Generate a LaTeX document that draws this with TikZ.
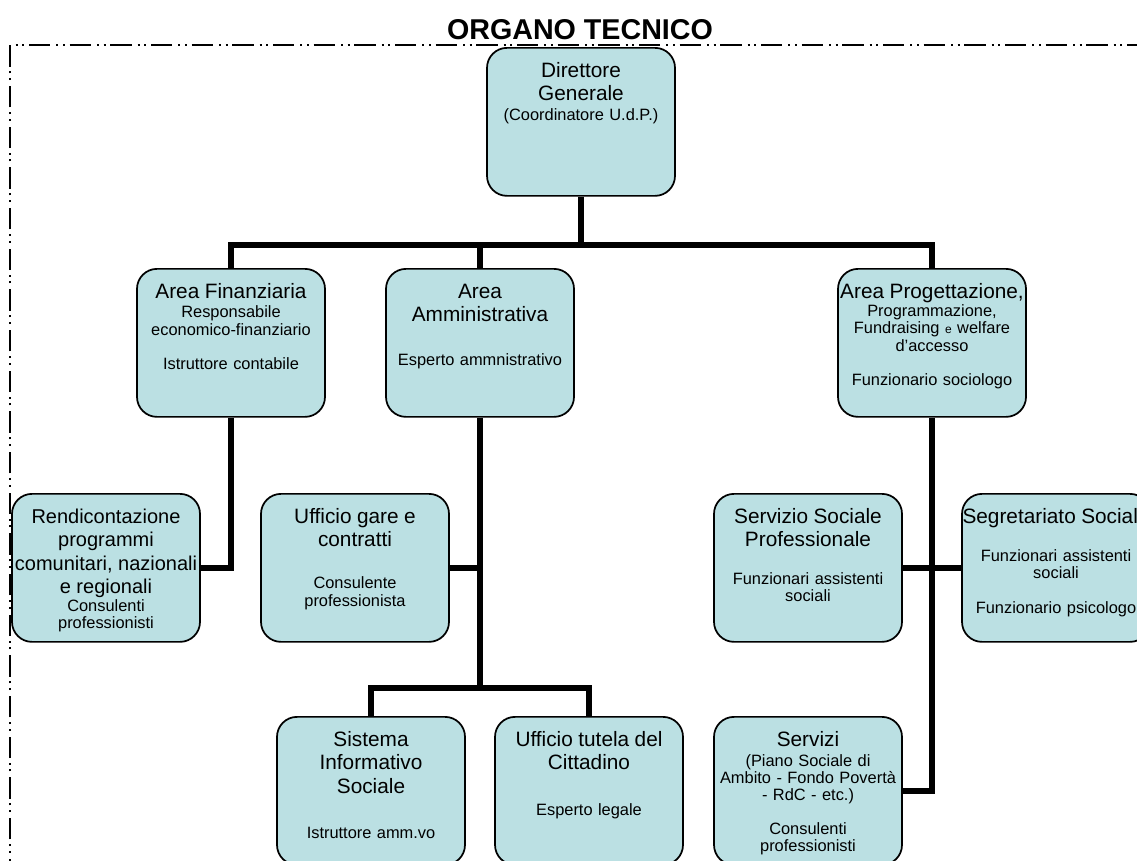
\documentclass[tikz,border=0pt]{standalone}
\usepackage{fontspec}
\setmainfont{Liberation Sans}
\definecolor{boxblue}{RGB}{187,224,227}
\newcommand{\grande}{\fontsize{15.6pt}{17.3pt}\selectfont}
\newcommand{\piccolo}{\fontsize{12.3pt}{12.8pt}\selectfont}
\newcommand{\minuto}{\fontsize{9pt}{10pt}\selectfont}

\begin{document}
\begin{tikzpicture}[x=0.75pt,y=-0.75pt]
      \tikzstyle{every node}=[font=\piccolo]
      \tikzstyle{box}=[draw,line width=1.3pt,rounded corners=15pt,fill=boxblue,anchor=north,
        inner sep=0pt,text width=141pt,align=center,text height=22.5pt,text depth=88.5pt]
      \tikzstyle{link}=[line width=4pt]
      \tikzstyle{frame}=[line width=1.2pt,dash pattern=on 16pt off 4.5pt on 1.5pt off 3.5pt on 1.5pt off 3.5pt]
      \useasboundingbox (0,0) rectangle (1137,860);
      %% Frame and title
      \draw[frame] (10,880) -- (10,45) -- (1160,45);
      \node (titolo) at (580,39) [anchor=base,inner sep=0pt,font=\fontsize{21.5pt}{24pt}\selectfont\bfseries] {ORGANO TECNICO};
      % Direttore
      \node (dg) at (581,47) [box] {{\grande Direttore\\ Generale\par}\vspace{2pt}(Coordinatore U.d.P.)};
      % Aree
      \node (af) at (231,268) [box] {{\grande Area Finanziaria\par}\vspace{1.5pt}Responsabile\\ economico-finanziario\\[12.8pt] Istruttore contabile};
      \node (aa) at (480,268) [box] {{\grande Area\\ Amministrativa\par}\vspace{19.5pt}Esperto ammnistrativo};
      \node (ap) at (932,268) [box] {{\grande Area Progettazione,\par}\vspace{0.7pt}Programmazione,\\ Fundraising {\minuto e} welfare\\ d’accesso\\[12.8pt] Funzionario sociologo};
      % Uffici
      \node (rc) at (106,493) [box] {{\fontsize{15pt}{17.3pt}\selectfont Rendicontazione\\ programmi\\ comunitari, nazionali\\ e regionali\par}\vspace{1pt}Consulenti\\ professionisti};
      \node (ug) at (355,493) [box] {{\grande Ufficio gare e\\ contratti\par}\vspace{18.7pt}Consulente\\ professionista};
      \node (ss) at (808,493) [box] {{\grande Servizio Sociale\\ Professionale\par}\vspace{15pt}Funzionari assistenti\\ sociali};
      \node (sg) at (1056,493) [box] {{\grande Segretariato Sociale\par}\vspace{15.7pt}Funzionari assistenti\\ sociali\\[12.8pt] Funzionario psicologo};
      \node (si) at (371,716) [box] {{\grande Sistema\\ Informativo\\ Sociale\par}\vspace{21pt}Istruttore amm.vo};
      \node (ut) at (589,716) [box] {{\grande Ufficio tutela del\\ Cittadino\par}\vspace{21pt}Esperto legale};
      \node (sv) at (808,716) [box] {{\grande Servizi\par}\vspace{2pt}(Piano Sociale di\\ Ambito - Fondo Povertà\\ - RdC - etc.)\\[12.8pt] Consulenti\\ professionisti};
      %% Links
      \coordinate (nodo1) at (581,245);
      \coordinate (nodo2) at (480,688);
      \draw[link] (dg.south) -- (nodo1);
      \draw[link] (af.north) |- (nodo1) -| (ap.north);
      \draw[link] (aa.north) -- (aa.north |- nodo1);
      \draw[link] (af.south) |- (rc.east);
      \draw[link] (aa.south) -- (nodo2);
      \draw[link] (ug.east) -- (ug.east -| aa.south);
      \draw[link] (si.north) |- (nodo2) -| (ut.north);
      \draw[link] (ap.south) |- (sv.east);
      \draw[link] (ss.east) -- (sg.west);
\end{tikzpicture}
\end{document}
